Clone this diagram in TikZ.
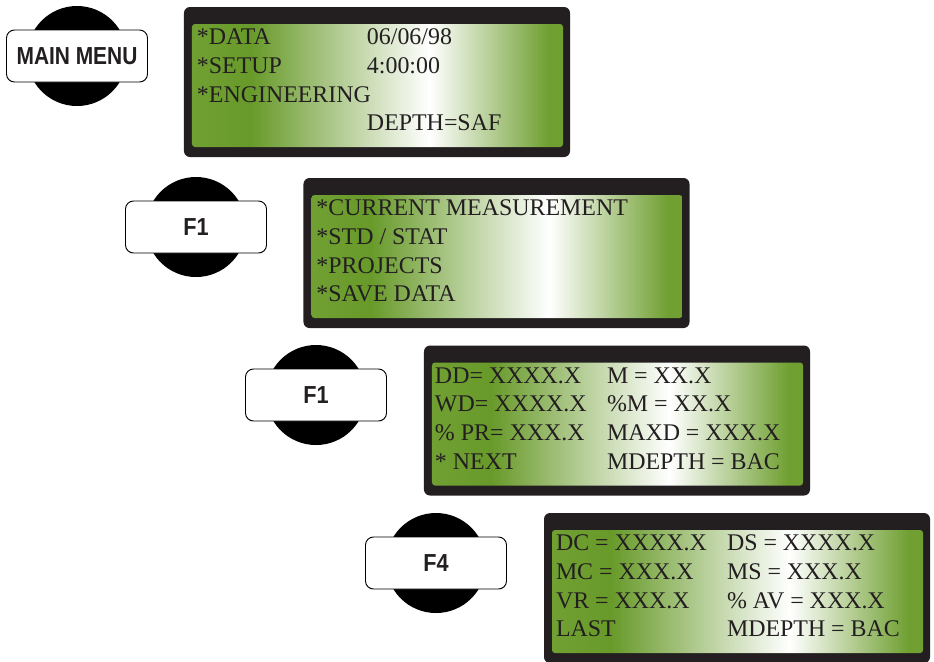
\documentclass[tikz,border=0pt]{standalone}
\usepackage{fontspec}
\setmainfont{Liberation Serif}
\setsansfont{Liberation Sans}
\usepackage{xcolor}
\usetikzlibrary{calc,positioning}

\definecolor{lcdgreen}{RGB}{112,160,50}
\definecolor{lcddark}{RGB}{104,154,42}
\definecolor{panelgray}{RGB}{35,31,32}
\pgfdeclarehorizontalshading{lcd}{100bp}{color(0bp)=(lcdgreen); color(25bp)=(lcdgreen); color(33bp)=(lcddark); color(57bp)=(white); color(73bp)=(lcdgreen); color(100bp)=(lcdgreen)}

\begin{document}
\begin{tikzpicture}[x=0.03cm, y=-0.03cm]
 % We define the styles for the keys and the display panels
 \tikzset{
key/.style = {circle, fill=black, minimum size=3cm, inner sep=0pt},
keycap/.style = {draw=black, fill=white, line width=0.8pt, rounded corners=0.24cm, minimum width=4.23cm, minimum height=1.56cm, inner sep=0pt, font=\sffamily\bfseries\fontsize{21}{21}\selectfont, text=panelgray},
panel/.style = {rectangle, fill=panelgray, rounded corners=0.18cm, minimum width=11.58cm, minimum height=4.5cm},
screen/.style = {rectangle, shading=lcd, rounded corners=0.09cm, minimum width=11.13cm, minimum height=3.69cm},
lcdtext/.style = {anchor=base west, inner sep=0pt, text=panelgray, font=\fontsize{20.4}{20.4}\selectfont},
}
 \useasboundingbox (0,0) rectangle (934,661);

 % Main menu key and first display
 \node [key] (menu) at (77,56) {};
 \node [keycap] (menulabel) at (menu.center) {\scalebox{0.85}[1]{MAIN MENU}};
 \node [panel] (d1) at (377,82) {};
 \node [screen] (d1in) at ($(d1.center)+(0.5,3.5)$) {};
 \node [lcdtext] (d1a) at ($(d1in.north west)+(5,21)$) {*DATA};
 \node [lcdtext] (d1b) at ($(d1in.north west)+(175,21)$) {06/06/98};
 \node [lcdtext] (d1c) at ($(d1in.north west)+(5,49.7)$) {*SETUP};
 \node [lcdtext] (d1d) at ($(d1in.north west)+(175,49.7)$) {4:00:00};
 \node [lcdtext] (d1e) at ($(d1in.north west)+(5,78.4)$) {*ENGINEERING};
 \node [lcdtext] (d1f) at ($(d1in.north west)+(175,107.1)$) {DEPTH=SAF};

 % F1 key and measurement menu
 \node [key] (fa) at (196,227) {};
 \node [keycap] (falabel) at (fa.center) {\scalebox{0.88}[1]{F1}};
 \node [panel] (d2) at (496.5,253) {};
 \node [screen] (d2in) at ($(d2.center)+(0.5,3.5)$) {};
 \node [lcdtext] (d2a) at ($(d2in.north west)+(5,21)$) {*CURRENT MEASUREMENT};
 \node [lcdtext] (d2b) at ($(d2in.north west)+(5,49.7)$) {*STD / STAT};
 \node [lcdtext] (d2c) at ($(d2in.north west)+(5,78.4)$) {*PROJECTS};
 \node [lcdtext] (d2d) at ($(d2in.north west)+(5,107.1)$) {*SAVE DATA};

 % F1 key and first values page
 \node [key] (fb) at (316,395) {};
 \node [keycap] (fblabel) at (fb.center) {\scalebox{0.88}[1]{F1}};
 \node [panel] (d3) at (617,420.5) {};
 \node [screen] (d3in) at ($(d3.center)+(0.5,3.5)$) {};
 \node [lcdtext] (d3a) at ($(d3in.north west)+(3,21)$) {DD= XXXX.X};
 \node [lcdtext] (d3b) at ($(d3in.north west)+(175,21)$) {M = XX.X};
 \node [lcdtext] (d3c) at ($(d3in.north west)+(3,49.7)$) {WD= XXXX.X};
 \node [lcdtext] (d3d) at ($(d3in.north west)+(175,49.7)$) {\%M = XX.X};
 \node [lcdtext] (d3e) at ($(d3in.north west)+(3,78.4)$) {\% PR= XXX.X};
 \node [lcdtext] (d3f) at ($(d3in.north west)+(175,78.4)$) {MAXD = XXX.X};
 \node [lcdtext] (d3g) at ($(d3in.north west)+(3,107.1)$) {* NEXT};
 \node [lcdtext] (d3h) at ($(d3in.north west)+(175,107.1)$) {MDEPTH = BAC};

 % F4 key and second values page
 \node [key] (fc) at (436,563) {};
 \node [keycap] (fclabel) at (fc.center) {\scalebox{0.88}[1]{F4}};
 \node [panel] (d4) at (737,588) {};
 \node [screen] (d4in) at ($(d4.center)+(0.5,3.5)$) {};
 \node [lcdtext] (d4a) at ($(d4in.north west)+(4,21)$) {DC = XXXX.X};
 \node [lcdtext] (d4b) at ($(d4in.north west)+(175,21)$) {DS = XXXX.X};
 \node [lcdtext] (d4c) at ($(d4in.north west)+(4,49.7)$) {MC = XXX.X};
 \node [lcdtext] (d4d) at ($(d4in.north west)+(175,49.7)$) {MS = XXX.X};
 \node [lcdtext] (d4e) at ($(d4in.north west)+(4,78.4)$) {VR = XXX.X};
 \node [lcdtext] (d4f) at ($(d4in.north west)+(175,78.4)$) {\% AV = XXX.X};
 \node [lcdtext] (d4g) at ($(d4in.north west)+(4,107.1)$) {LAST};
 \node [lcdtext] (d4h) at ($(d4in.north west)+(175,107.1)$) {MDEPTH = BAC};

\end{tikzpicture}
\end{document}
